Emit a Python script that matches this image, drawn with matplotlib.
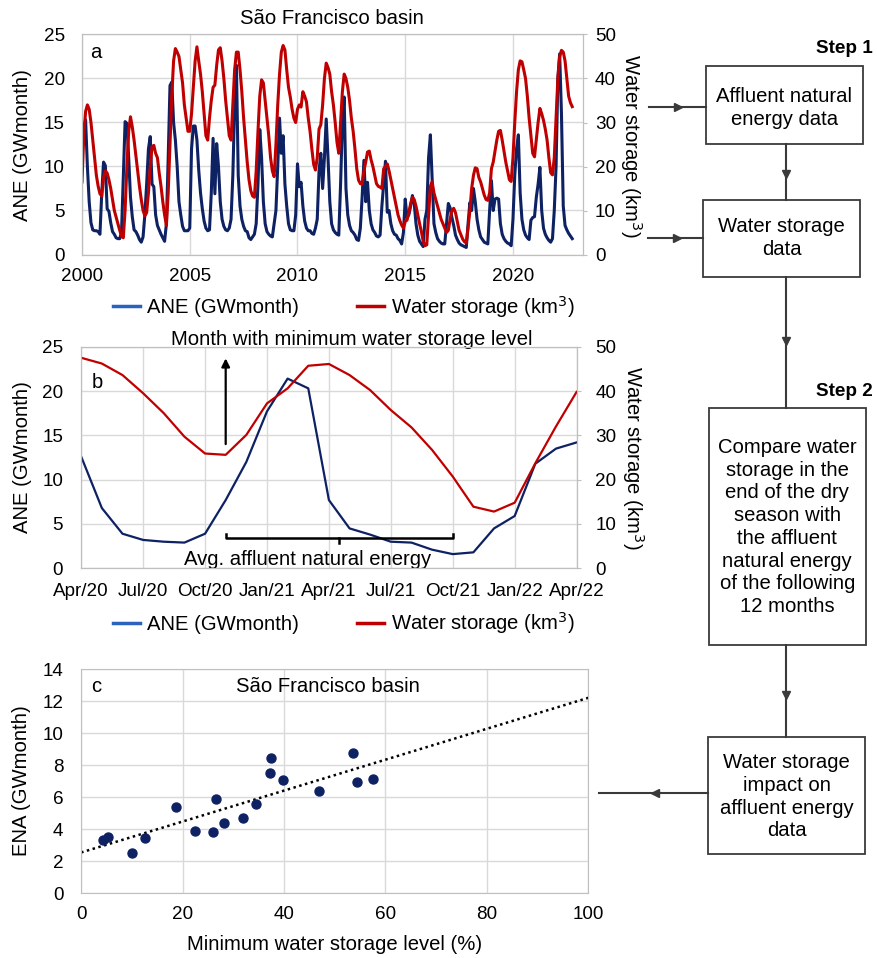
import numpy as np
import matplotlib
matplotlib.use('Agg')
import matplotlib.pyplot as plt
from matplotlib.lines import Line2D
from matplotlib.patches import Rectangle

plt.rcParams['font.family'] = ['Liberation Sans', 'DejaVu Sans']

# ---- panel a: monthly series, Jan 2000 - Oct 2022 ----
ane_by_year = {
    2000: [12.4, 14.5, 15.3, 10.0, 6.0, 3.6, 2.8, 2.7, 2.7, 2.6, 2.3, 7.0],
    2001: [10.5, 10.1, 5.2, 4.9, 3.6, 2.6, 2.3, 1.9, 1.8, 1.8, 2.5, 9.0],
    2002: [15.1, 14.9, 11.0, 6.5, 4.3, 2.8, 2.6, 2.2, 1.7, 1.4, 2.0, 4.5],
    2003: [8.0, 12.0, 13.4, 8.0, 7.7, 4.5, 3.3, 2.8, 2.3, 1.9, 1.5, 3.5],
    2004: [11.0, 19.2, 19.6, 15.0, 13.0, 10.0, 6.0, 4.5, 3.2, 2.7, 2.7, 2.7],
    2005: [3.0, 12.0, 14.6, 14.6, 13.0, 9.6, 7.0, 5.2, 3.8, 3.0, 2.7, 2.8],
    2006: [7.0, 13.2, 6.9, 12.6, 10.0, 6.0, 4.0, 3.2, 2.8, 2.7, 3.0, 4.0],
    2007: [9.0, 17.0, 21.5, 9.0, 5.5, 4.0, 3.2, 2.7, 2.6, 1.9, 1.7, 2.0],
    2008: [2.3, 3.5, 8.0, 14.2, 11.0, 6.0, 3.5, 2.6, 2.3, 2.1, 2.0, 3.5],
    2009: [5.0, 10.0, 15.5, 11.5, 13.5, 8.0, 5.5, 3.5, 2.8, 2.7, 2.7, 4.5],
    2010: [10.3, 7.7, 8.2, 5.5, 3.8, 3.0, 2.7, 2.7, 2.4, 2.3, 3.0, 4.0],
    2011: [9.5, 11.5, 7.5, 11.0, 15.4, 11.0, 6.0, 3.5, 2.8, 2.5, 2.3, 2.2],
    2012: [8.0, 15.0, 17.9, 7.5, 4.5, 3.3, 2.7, 2.5, 2.2, 1.7, 1.6, 3.0],
    2013: [6.5, 10.7, 6.0, 8.2, 5.0, 3.5, 2.8, 2.5, 2.1, 2.0, 2.2, 5.5],
    2014: [8.0, 10.6, 4.8, 5.0, 3.5, 2.7, 2.3, 2.2, 1.8, 1.6, 1.2, 2.5],
    2015: [6.3, 4.2, 4.5, 5.5, 6.7, 5.8, 3.5, 2.2, 1.5, 1.2, 0.9, 4.0],
    2016: [5.0, 11.0, 13.6, 8.5, 3.5, 2.5, 1.8, 1.5, 1.3, 1.2, 1.2, 3.5],
    2017: [5.8, 5.3, 4.2, 3.3, 2.2, 1.7, 1.3, 1.1, 1.0, 0.9, 0.8, 3.5],
    2018: [5.9, 5.0, 7.5, 6.0, 4.0, 2.8, 2.0, 1.7, 1.4, 1.3, 1.2, 5.0],
    2019: [8.4, 5.0, 6.3, 6.4, 6.3, 3.5, 2.3, 1.8, 1.5, 1.3, 1.2, 1.0],
    2020: [4.0, 9.0, 12.0, 13.6, 7.0, 4.0, 2.8, 2.2, 1.9, 1.7, 3.9, 4.2],
    2021: [4.3, 6.5, 8.0, 9.9, 5.0, 3.0, 2.3, 1.9, 1.6, 1.4, 1.8, 5.0],
    2022: [10.0, 20.0, 22.8, 16.0, 5.5, 3.3, 2.8, 2.4, 2.1, 1.8],
}
storage_by_year = {
    2000: [16.5, 27, 32.5, 34, 33, 30, 26, 22, 18, 15.5, 13.8, 13.3],
    2001: [17.5, 19.0, 18.5, 17, 15, 12.5, 10, 8.5, 7, 5.5, 4.2, 3.8],
    2002: [10, 20, 28, 31.3, 29, 26, 22.5, 19, 15.5, 12.5, 10, 8.8],
    2003: [9.5, 14, 20, 24.5, 24.8, 23, 22, 18.5, 15.5, 12, 9, 6.6],
    2004: [14, 25, 36, 44, 46.8, 46, 45, 42, 39, 34, 31, 28],
    2005: [28, 32, 38, 44, 47.2, 44, 41, 37, 32, 27, 26, 31],
    2006: [35, 38, 38.5, 43, 46.5, 47, 44, 40, 35, 31, 27, 26],
    2007: [34, 42, 46, 46, 42, 37, 31, 26, 21, 17, 14.5, 13.3],
    2008: [13, 19, 28, 36, 39.7, 39, 35, 31, 27, 22, 19, 17.7],
    2009: [25, 34, 41, 46, 47.5, 46.5, 42, 38, 35.8, 33, 31, 30],
    2010: [33, 34, 33.5, 37, 36, 34.7, 31, 28, 24, 20.5, 19.2, 22],
    2011: [28.5, 29.5, 34, 40, 43.5, 42.5, 41, 37, 34, 30, 25.5, 23],
    2012: [30, 37, 41, 40, 38, 35, 31, 28, 24, 19.5, 16.9, 16.1],
    2013: [16, 19, 21, 23.3, 23.5, 21.5, 20, 18, 16.1, 15.5, 15.3, 15],
    2014: [19.5, 20, 20.6, 19, 17, 15, 13, 11, 9, 7.7, 6.7, 6.0],
    2015: [7.5, 7.8, 9.5, 11.5, 13, 12.5, 11, 9, 7, 5.2, 3, 2.0],
    2016: [2.2, 9, 15.5, 16.5, 14, 12.5, 11, 9.5, 8, 7, 6, 5],
    2017: [5.5, 8, 10, 10.5, 9.5, 7.5, 5.5, 4.5, 3.5, 2.9, 2.6, 6],
    2018: [10, 15, 18, 19.7, 19.5, 17.5, 16.5, 15, 13.5, 12.5, 12.3, 14],
    2019: [19.5, 21, 23.5, 26, 28, 28.2, 26, 23.5, 21, 19, 17, 16.6],
    2020: [22, 30, 37, 42, 44, 43.8, 42, 40, 36, 31, 27, 23],
    2021: [22.2, 26, 30, 33.2, 32, 30.5, 28.5, 26, 22, 18.6, 18.1, 22],
    2022: [31, 40, 45, 46.4, 46, 44, 40, 36, 34.5, 33.6],
}
year_ticks = [2000, 2005, 2010, 2015, 2020]

# ---- panel b: Apr/20 - Apr/22 ----
months_b = ['Apr/20', 'May/20', 'Jun/20', 'Jul/20', 'Aug/20', 'Sep/20', 'Oct/20', 'Nov/20',
            'Dec/20', 'Jan/21', 'Feb/21', 'Mar/21', 'Apr/21', 'May/21', 'Jun/21', 'Jul/21',
            'Aug/21', 'Sep/21', 'Oct/21', 'Nov/21', 'Dec/21', 'Jan/22', 'Feb/22', 'Mar/22', 'Apr/22']
ane_b = [12.6, 6.8, 3.9, 3.2, 3.0, 2.9, 3.9, 7.7, 12.0, 17.7, 21.4, 20.3, 7.7,
         4.5, 3.8, 3.0, 2.9, 2.1, 1.6, 1.8, 4.5, 5.9, 11.8, 13.5, 14.2]
storage_b = [47.5, 46.2, 43.6, 39.5, 35.0, 29.7, 25.9, 25.6, 30.1, 37.2, 40.6, 45.7, 46.1,
             43.6, 40.2, 35.7, 31.8, 26.7, 20.7, 13.9, 12.8, 14.8, 23.7, 32.0, 39.8]

# ---- panel c: scatter ----
min_storage = [4.4, 5.3, 10.0, 12.5, 18.7, 22.4, 26.0, 26.6, 28.1, 32.0, 34.4, 37.2,
               37.5, 39.8, 46.9, 53.6, 54.3, 57.5]
ena_next = [3.33, 3.5, 2.5, 3.48, 5.38, 3.9, 3.85, 5.9, 4.4, 4.69, 5.58, 7.54,
            8.44, 7.08, 6.4, 8.75, 6.98, 7.13]

W, H = 877, 958
NAVY = '#0d2163'
RED = '#c00000'
LEG_BLUE = '#2a62c0'
GRID = '#d9d9d9'
AXC = '#bfbfbf'
FS = 14.6
TFS = 13.6


def fx(x):
    return x / W


def fy(y):
    return 1 - y / H


def axes_px(left, top, right, bottom):
    return fig.add_axes([fx(left), fy(bottom), (right - left) / W, (bottom - top) / H])


def style(ax):
    ax.grid(True, color=GRID, lw=1)
    ax.set_axisbelow(True)
    for s in ax.spines.values():
        s.set_color(AXC)


fig = plt.figure(figsize=(W / 100, H / 100), dpi=100)

# ================= panel a =================
ane_a = np.concatenate([ane_by_year[y] for y in sorted(ane_by_year)])
storage_a = np.concatenate([storage_by_year[y] for y in sorted(storage_by_year)])
t_a = 2000 + np.arange(len(ane_a)) / 12

ax_a = axes_px(82, 34.5, 583, 254.5)
style(ax_a)
ax_a.plot(t_a, ane_a, color=NAVY, lw=2.2)
ax_a.set_xlim(2000, 2023.25)
ax_a.set_ylim(0, 25)
ax_a.set_xticks(year_ticks)
ax_a.set_xticklabels([str(y) for y in year_ticks])
ax_a.set_yticks(range(0, 26, 5))
ax_a.tick_params(axis='x', length=0, labelsize=TFS, pad=9.5)
ax_a.tick_params(axis='y', length=0, labelsize=TFS, pad=12.3)
ax_a.text(2000.4, 23.0, 'a', fontsize=FS, ha='left', va='center')

ax_a2 = ax_a.twinx()
ax_a2.plot(t_a, storage_a, color=RED, lw=2.2)
ax_a2.set_ylim(0, 50)
ax_a2.set_yticks(range(0, 51, 10))
ax_a2.tick_params(axis='y', length=3, color=AXC, labelsize=TFS, pad=5.6)
for s in ax_a2.spines.values():
    s.set_color(AXC)

fig.text(fx(332), fy(18.3), 'São Francisco basin', fontsize=FS, ha='center', va='center')
fig.text(fx(23), fy(145), 'ANE (GWmonth)', fontsize=FS, rotation=90, ha='center', va='center')
fig.text(fx(631), fy(146), 'Water storage (km$^3$)', fontsize=FS, rotation=270,
         ha='center', va='center')

handles = [Line2D([], [], color=LEG_BLUE, lw=2.5), Line2D([], [], color=RED, lw=2.5)]
leg_labels = ['ANE (GWmonth)', 'Water storage (km$^3$)']
fig.legend(handles, leg_labels, loc='center', bbox_to_anchor=(fx(344), fy(306.7)), ncol=2,
           frameon=False, fontsize=FS, handlelength=1.3, handletextpad=0.35, columnspacing=2.9)

# ================= panel b =================
idx_b = np.arange(len(months_b))
ax_b = axes_px(81.2, 346.7, 576.6, 568.3)
style(ax_b)
ax_b.plot(idx_b, ane_b, color=NAVY, lw=1.6)
ax_b.set_xlim(0, len(months_b) - 1)
ax_b.set_ylim(0, 25)
ax_b.set_xticks(idx_b[::3])
ax_b.set_xticklabels(months_b[::3])
ax_b.set_yticks(range(0, 26, 5))
ax_b.tick_params(axis='x', length=0, labelsize=TFS, pad=10.6)
ax_b.tick_params(axis='y', length=0, labelsize=TFS, pad=13)
ax_b.text(0.5, 21.0, 'b', fontsize=FS, ha='left', va='center')

ax_b2 = ax_b.twinx()
ax_b2.plot(idx_b, storage_b, color=RED, lw=1.6)
ax_b2.set_ylim(0, 50)
ax_b2.set_yticks(range(0, 51, 10))
ax_b2.tick_params(axis='y', length=3, color=AXC, labelsize=TFS, pad=10.6)
for s in ax_b2.spines.values():
    s.set_color(AXC)

# minimum storage month arrow and averaging bracket
i_min = 7
i_end = 18
ax_b.annotate('', xy=(i_min, 24.0), xytext=(i_min, 13.7),
              arrowprops=dict(arrowstyle='-|>', color='black', lw=1.6, mutation_scale=12),
              annotation_clip=False)
ax_b.text(13.1, 25.8, 'Month with minimum water storage level', fontsize=FS,
          ha='center', va='center', clip_on=False)
ax_b.plot([i_min, i_min, i_end, i_end], [3.9, 3.38, 3.38, 3.9], color='black', lw=1.8)
ax_b.plot([12.5, 12.5], [3.38, 2.85], color='black', lw=1.8)
ax_b.text(10.95, 1.0, 'Avg. affluent natural energy', fontsize=FS, ha='center', va='center')

fig.text(fx(23), fy(457.5), 'ANE (GWmonth)', fontsize=FS, rotation=90, ha='center', va='center')
fig.text(fx(633), fy(458), 'Water storage (km$^3$)', fontsize=FS, rotation=270,
         ha='center', va='center')
fig.legend(handles, leg_labels, loc='center', bbox_to_anchor=(fx(344), fy(623.3)), ncol=2,
           frameon=False, fontsize=FS, handlelength=1.3, handletextpad=0.35, columnspacing=2.9)

# ================= panel c =================
ax_c = axes_px(81.1, 669.3, 588.4, 893.3)
style(ax_c)
ax_c.scatter(min_storage, ena_next, s=42, color=NAVY, zorder=3)
slope, intercept = np.polyfit(min_storage, ena_next, 1)
xs = np.array([0.0, 100.0])
ax_c.plot(xs, intercept + slope * xs, color='black', lw=1.8, ls=(0, (1, 1.4)))
ax_c.set_xlim(0, 100)
ax_c.set_ylim(0, 14)
ax_c.set_xticks(range(0, 101, 20))
ax_c.set_yticks(range(0, 15, 2))
ax_c.tick_params(axis='x', length=0, labelsize=TFS, pad=9.4)
ax_c.tick_params(axis='y', length=0, labelsize=TFS, pad=12.8)
ax_c.text(1.9, 12.9, 'c', fontsize=FS, ha='left', va='center')
ax_c.text(48.7, 12.9, 'São Francisco basin', fontsize=FS, ha='center', va='center')
fig.text(fx(21.7), fy(781), 'ENA (GWmonth)', fontsize=FS, rotation=90, ha='center', va='center')
fig.text(fx(334.5), fy(944), 'Minimum water storage level (%)', fontsize=FS,
         ha='center', va='center')

# ================= flowchart =================
EDGE = '#3a3a3a'


def box(x0, y0, x1, y1):
    fig.add_artist(Rectangle((fx(x0), fy(y1)), (x1 - x0) / W, (y1 - y0) / H,
                             transform=fig.transFigure, fill=False, ec=EDGE, lw=1.3))


def seg(x0, y0, x1, y1):
    fig.add_artist(Line2D([fx(x0), fx(x1)], [fy(y0), fy(y1)], transform=fig.transFigure,
                          color=EDGE, lw=1.5))


def head(x, y, marker):
    fig.add_artist(Line2D([fx(x)], [fy(y)], transform=fig.transFigure, marker=marker,
                          markersize=6, color=EDGE, lw=0))


box(705.6, 66.4, 863.2, 144.0)
box(703.3, 200.2, 860.0, 277.3)
box(709.0, 408.3, 865.5, 644.6)
box(708.3, 736.7, 865.0, 854.0)

fig.text(fx(784.4), fy(108.3), 'Affluent natural\nenergy data', fontsize=FS, ha='center',
         va='center', linespacing=1.25)
fig.text(fx(781.6), fy(238), 'Water storage\ndata', fontsize=FS, ha='center', va='center',
         linespacing=1.25)
fig.text(fx(787.2), fy(527), 'Compare water\nstorage in the\nend of the dry\nseason with\n'
         'the affluent\nnatural energy\nof the following\n12 months', fontsize=FS,
         ha='center', va='center', linespacing=1.25)
fig.text(fx(786.6), fy(796.7), 'Water storage\nimpact on\naffluent energy\ndata', fontsize=FS,
         ha='center', va='center', linespacing=1.25)

fig.text(fx(873), fy(48.7), 'Step 1', fontsize=TFS, weight='bold', ha='right', va='center')
fig.text(fx(873), fy(391.7), 'Step 2', fontsize=TFS, weight='bold', ha='right', va='center')

seg(649, 106.6, 705.6, 106.6)
head(678, 106.6, '>')
seg(648, 237.7, 703.3, 237.7)
head(677, 237.7, '>')
seg(786, 144.0, 786, 200.2)
head(786, 173.5, 'v')
seg(786, 277.3, 786, 408.3)
head(786, 341.0, 'v')
seg(786, 644.6, 786, 736.7)
head(786, 695.0, 'v')
seg(708.3, 793.3, 599.3, 793.3)
head(655, 793.3, '<')

fig.savefig('out.png', dpi=100)
